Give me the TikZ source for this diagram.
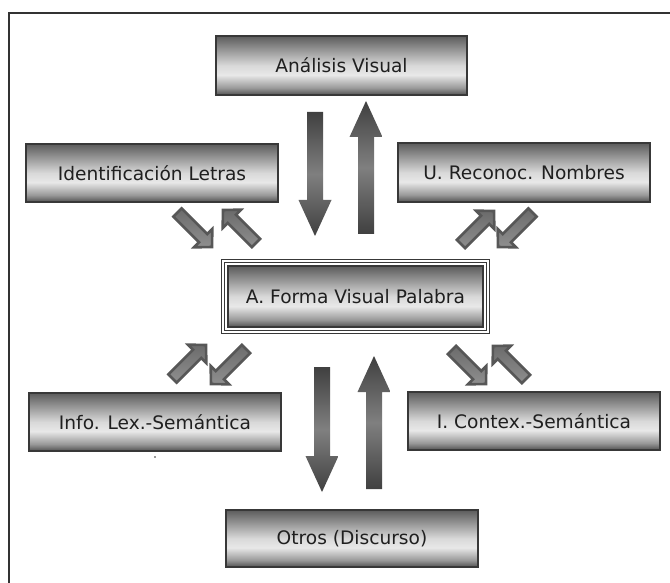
\documentclass[tikz,border=0pt]{standalone}
\usepackage{fontspec}
\setmainfont{DejaVu Sans}
\usetikzlibrary{calc}

% light band a bit below the middle, dark at top and bottom
\pgfdeclareverticalshading{stagefill}{100bp}{color(0bp)=(black!68); color(25bp)=(black!68); color(31bp)=(black!40); color(42bp)=(black!9); color(50bp)=(black!15); color(75bp)=(black!64); color(100bp)=(black!64)}

% block arrow: style, tail, tip, shaft half width, head half width, head length
\newcommand{\blockarrow}[6]{%
  \coordinate (hb) at ($(#3)!#6!(#2)$);
  \path[#1] ($(#2)!#4!90:(#3)$) -- ($(hb)!#4!90:(#3)$) -- ($(hb)!#5!90:(#3)$) -- (#3)
    -- ($(hb)!#5!-90:(#3)$) -- ($(hb)!#4!-90:(#3)$) -- ($(#2)!#4!-90:(#3)$) -- cycle;
}

\begin{document}
\begin{tikzpicture}[x=1pt, y=-1pt,
  stage/.style={draw=black!78, line width=1.2pt, shading=stagefill, text=black!88,
    minimum width=252pt, minimum height=58pt, inner sep=0pt,
    font=\fontsize{18.6}{22}\selectfont},
  bigarrow/.style={top color=black!75, bottom color=black!75, middle color=black!50},
  smallarrow/.style={draw=black!66, line width=2.6pt, line join=miter,
    top color=black!58, bottom color=black!44}]
  \useasboundingbox (0,0) rectangle (670,583);
  \draw[black!80, line width=1.4pt] (670,13) -- (9,13) -- (9,583);

  % boxes
  \node[stage, minimum width=251pt, minimum height=59pt] (visual) at (341.5,65.5) {Análisis Visual};
  \node[stage] (letras) at (152,173) {Identificación Letras};
  \node[stage, minimum height=59pt] (nombres) at (524,172.5) {U. Reconoc. Nombres};
  \node[stage, minimum width=255pt, minimum height=61pt, line width=1.5pt] (forma) at (355.5,296.5) {A. Forma Visual Palabra};
  \draw[black!78, line width=0.9pt, double=white, double distance=2pt]
    ($(forma.north west)+(-4.3,-4.3)$) rectangle ($(forma.south east)+(4.3,4.3)$);
  \node[stage] (lexsem) at (155,422) {Info. Lex.-Semántica};
  \node[stage] (contex) at (534,421) {I. Contex.-Semántica};
  \node[stage, minimum height=57pt] (otros) at (352,538.5) {Otros (Discurso)};
  \fill[black!80] (155,457) circle (0.9pt);

  % arrow ends
  \coordinate (vd1-s) at (315,112);   \coordinate (vd1-e) at (315,236);
  \coordinate (vu1-s) at (366,234);   \coordinate (vu1-e) at (366,101);
  \coordinate (vd2-s) at (322,367);   \coordinate (vd2-e) at (322,492);
  \coordinate (vu2-s) at (374,489);   \coordinate (vu2-e) at (374,356);
  \coordinate (tl1-s) at (177.5,212.5); \coordinate (tl1-e) at (212,247);
  \coordinate (tl2-s) at (256,243);   \coordinate (tl2-e) at (223,210);
  \coordinate (tr1-s) at (461,244);   \coordinate (tr1-e) at (494,211);
  \coordinate (tr2-s) at (532.5,212.5); \coordinate (tr2-e) at (498,247);
  \coordinate (bl1-s) at (172.5,378.5); \coordinate (bl1-e) at (206,345);
  \coordinate (bl2-s) at (246,349);   \coordinate (bl2-e) at (211,384);
  \coordinate (br1-s) at (452,350);   \coordinate (br1-e) at (486,384);
  \coordinate (br2-s) at (526,379);   \coordinate (br2-e) at (493,346);

  % big arrows
  \foreach \a in {vd1,vu1,vd2,vu2}{
    \blockarrow{bigarrow}{\a-s}{\a-e}{8pt}{16.5pt}{36pt}
  }
  % small arrows
  \foreach \a in {tl1,tl2,tr1,tr2,bl1,bl2,br1,br2}{
    \blockarrow{smallarrow}{\a-s}{\a-e}{5.8pt}{13pt}{12.5pt}
  }
\end{tikzpicture}
\end{document}
